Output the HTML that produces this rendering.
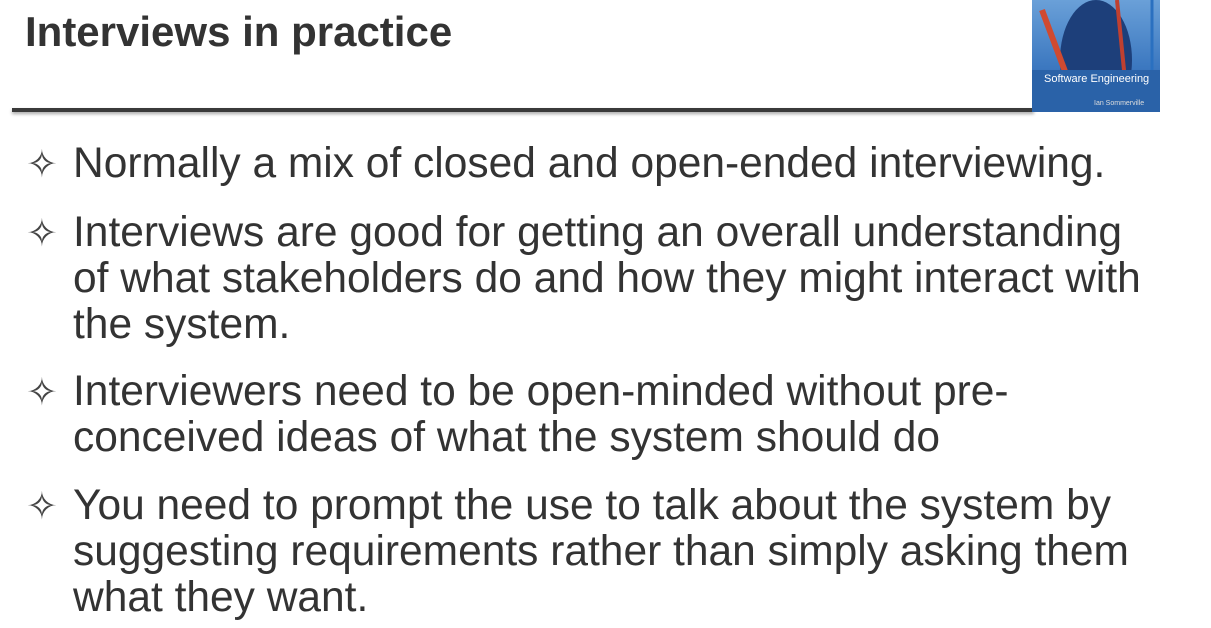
<!DOCTYPE html>
<html><head><meta charset="utf-8"><style>
body{margin:0;width:1211px;height:628px;background:#fff;position:relative;overflow:hidden;font-family:"Liberation Sans",sans-serif;color:#333}
#title{position:absolute;left:25px;top:8px;font-size:42px;font-weight:bold;color:#333;margin:0}
#rule{position:absolute;left:12px;top:108px;width:1022px;height:4px;background:#3a3a3a;box-shadow:0 2px 3px rgba(0,0,0,.35)}
#cover{position:absolute;left:1032px;top:0;width:128px;height:112px;background:linear-gradient(#6aa0d8,#3c78c0 60%,#2c5e9e);overflow:hidden}
#cover .band{position:absolute;left:0;top:70px;width:128px;height:42px;background:#2a62a8}
#cover .t1{position:absolute;left:12px;top:73px;font-size:11px;color:#fff}
#cover .t2{position:absolute;left:62px;top:100px;font-size:7px;color:#ddd}
.b{position:absolute;left:26px;font-size:42.5px;line-height:46px;width:1180px;white-space:nowrap}
.b span.s{position:absolute;left:0;top:1px;font-size:38px;color:#444}
.b div{margin-left:47px}
</style></head><body>
<h1 id="title">Interviews in practice</h1>
<div id="rule"></div>
<div id="cover">
<svg width="128" height="112" style="position:absolute;left:0;top:0"><ellipse cx="64" cy="60" rx="36" ry="60" fill="#1d3f7a"/><path d="M10 10 L40 90" stroke="#d04a30" stroke-width="6"/><path d="M85 0 L95 100" stroke="#c04030" stroke-width="4"/><path d="M120 0 L120 100" stroke="#2a70c0" stroke-width="3"/></svg>
<div class="band"></div>
<div class="t1">Software Engineering</div>
<div class="t2">Ian Sommerville</div>
</div>
<div class="b" style="top:141px"><span class="s">✧</span><div>Normally a mix of closed and open-ended interviewing.</div></div>
<div class="b" style="top:210px"><span class="s">✧</span><div>Interviews are good for getting an overall understanding<br>of what stakeholders do and how they might interact with<br>the system.</div></div>
<div class="b" style="top:369px"><span class="s">✧</span><div>Interviewers need to be open-minded without pre-<br>conceived ideas of what the system should do</div></div>
<div class="b" style="top:483px"><span class="s">✧</span><div>You need to prompt the use to talk about the system by<br>suggesting requirements rather than simply asking them<br>what they want.</div></div>
</body></html>
